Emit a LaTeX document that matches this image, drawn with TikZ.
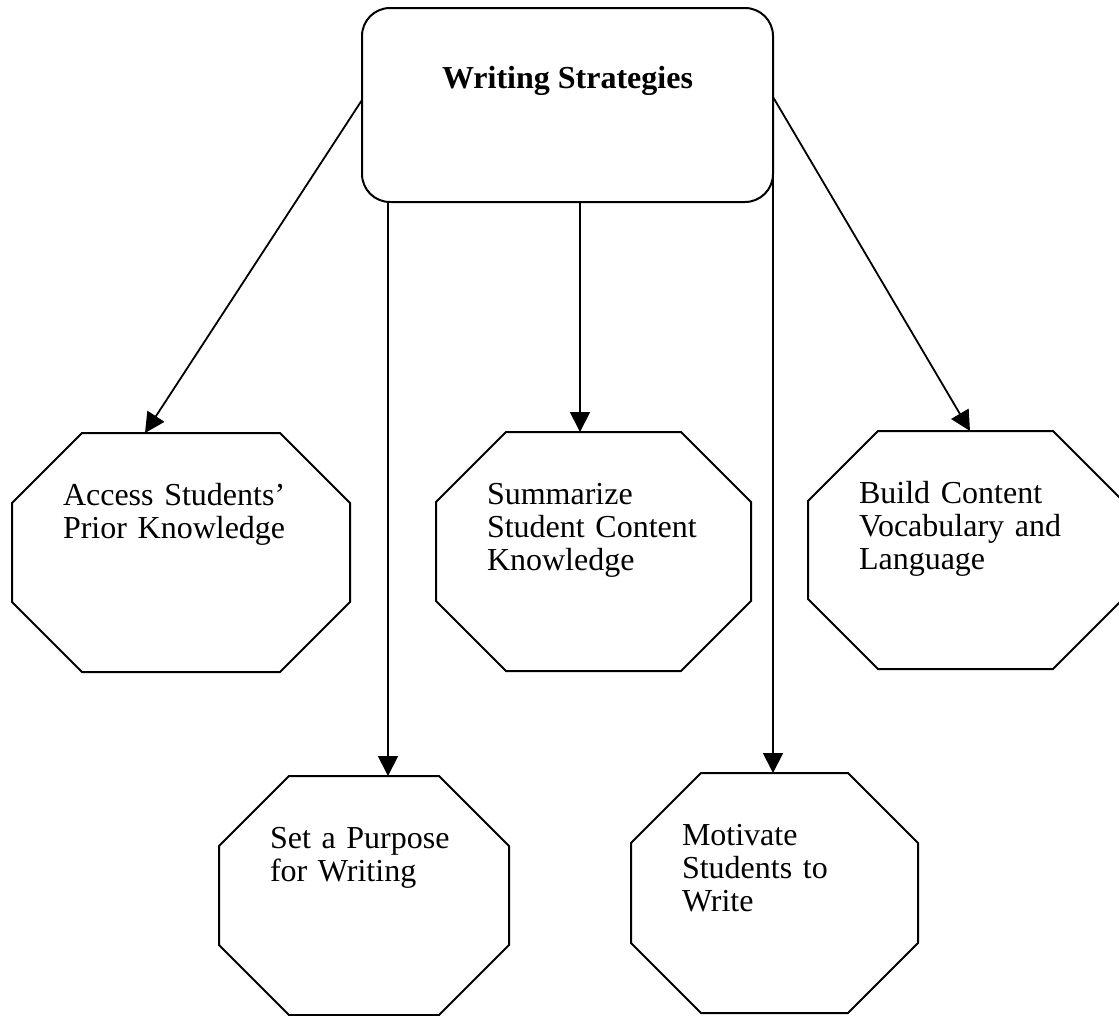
\documentclass[tikz,border=0pt]{standalone}
\usepackage{fontspec}
\setmainfont{Liberation Serif}
\usetikzlibrary{arrows.meta}
\begin{document}
\begin{tikzpicture}[x=1pt,y=-1pt,
  lw/.style={line width=2pt},
  topbox/.style={draw, lw, rounded corners=28pt, inner sep=0pt, outer sep=0pt,
    font=\fontsize{32}{33}\selectfont\bfseries, align=center},
  octnode/.style={inner ysep=0pt, inner xsep=51pt, outer sep=0pt, anchor=north west,
    font=\fontsize{32}{33}\selectfont, align=left, text height=72pt},
  octline/.style={draw, lw, line join=miter},
  conn/.style={draw, line width=1.8pt, -{Triangle[length=20pt,width=20pt]}}
]
\useasboundingbox (0,0) rectangle (1119,1015);

% central box
\node[topbox, minimum width=411pt, text height=80pt, text depth=114pt, anchor=north]
  (ws) at (567.5,8) {Writing Strategies};

% octagon nodes (box of the octagon; text at top left)
\node[octnode, text width=236pt, text depth=167pt] (access) at (12,433)
  {Access Students'\\Prior Knowledge};
\node[octnode, text width=213pt, text depth=167pt] (summ) at (436,432)
  {Summarize\\Student Content\\Knowledge};
\node[octnode, text width=213pt, text depth=166pt] (build) at (808,431)
  {Build Content\\Vocabulary and\\Language};
\node[octnode, text width=188pt, text depth=167pt] (purpose) at (219,776)
  {Set a Purpose\\for Writing};
\node[octnode, text width=185pt, text depth=168pt] (motiv) at (631,773)
  {Motivate\\Students to\\Write};

% octagon outlines
\foreach \n in {access,summ,build,purpose,motiv}{
  \draw[octline] ([xshift=70pt]\n.north west) -- ([xshift=-70pt]\n.north east)
    -- ([yshift=-70pt]\n.north east) -- ([yshift=70pt]\n.south east)
    -- ([xshift=-70pt]\n.south east) -- ([xshift=70pt]\n.south west)
    -- ([yshift=70pt]\n.south west) -- ([yshift=-70pt]\n.north west) -- cycle;
}

% connectors
\coordinate (pA) at ([yshift=5pt]ws.west);
\coordinate (pB) at ([xshift=26pt]ws.south west);
\coordinate (pC) at ([xshift=12.5pt]ws.south);
\coordinate (pD) at ([yshift=30pt]ws.south east);
\coordinate (pE) at ([yshift=8pt]ws.east);

\draw[conn] (pA) -- ([xshift=133pt]access.north west);
\draw[conn] (pB) -- (pB |- purpose.north);
\draw[conn] (pC) -- (pC |- summ.north);
\draw[conn] (pD) -- (pD |- motiv.north);
\draw[conn] (pE) -- ([xshift=162pt]build.north west);
\end{tikzpicture}
\end{document}
